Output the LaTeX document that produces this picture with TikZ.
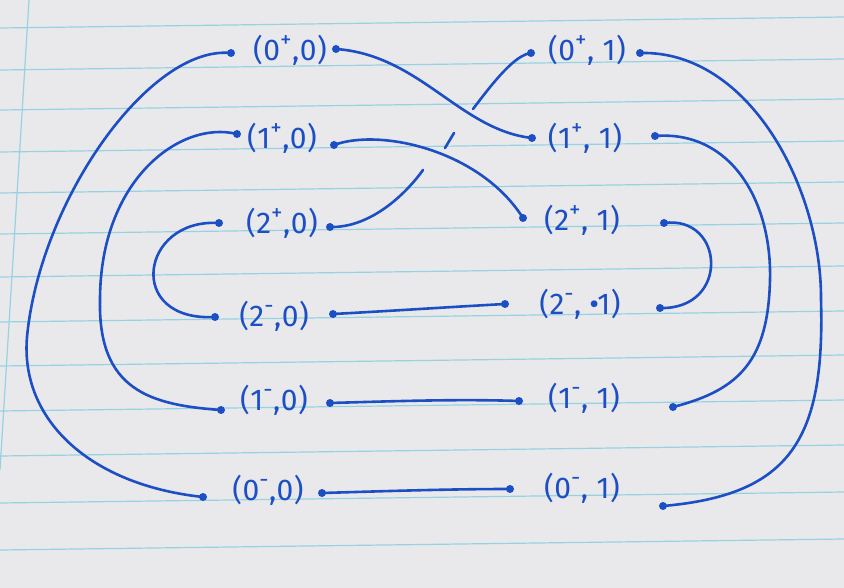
\documentclass[tikz,border=0pt]{standalone}
\usepackage{fontspec}
\setmainfont{Fira Sans}
\definecolor{ink}{RGB}{28,78,196}
\definecolor{paper}{RGB}{233,233,236}
\definecolor{rulecol}{RGB}{150,210,225}
\newcommand\hsup[1]{\raisebox{0.42em}{\fontsize{23}{23}\selectfont #1}}
\newcommand\kk{\kern0.5pt}
\begin{document}
\begin{tikzpicture}[x=1pt,y=-1pt,
  dot/.style={circle,fill=ink,inner sep=0pt,minimum size=8pt},
  lab/.style={text=ink,font=\fontsize{30}{32}\selectfont,inner sep=0pt},
  wire/.style={draw=ink,line width=2.6pt,line cap=round},
  ruling/.style={draw=rulecol,line width=1.2pt}]
\fill[paper] (0,0) rectangle (844,588);
\useasboundingbox (0,0) rectangle (844,588);
\foreach \y in {28,70,110,152,193,234,277,322,366,411,456,503,550}
  \draw[ruling] (0,\y) -- (844,{\y-11});
\draw[ruling] (29,0) -- (0,470);

% labels, left column
\node[lab] (lp0) at (290,50) {(\kk0\hsup{+}\kk,\kk0\kk)};
\node[lab] (lp1) at (282,138) {(\kk1\hsup{+}\kk,\kk0\kk)};
\node[lab] (lp2) at (282,223) {(\kk2\hsup{+}\kk,\kk0\kk)};
\node[lab] (lm2) at (274,316) {(\kk2\hsup{-}\kk,\kk0\kk)};
\node[lab] (lm1) at (274,400) {(\kk1\hsup{-}\kk,\kk0\kk)};
\node[lab] (lm0) at (268,490) {(\kk0\hsup{-}\kk,\kk0\kk)};
% labels, right column
\node[lab] (rp0) at (587,50) {(\kk0\hsup{+}\kk, \kk1\kk)};
\node[lab] (rp1) at (585,138) {(\kk1\hsup{+}\kk, \kk1\kk)};
\node[lab] (rp2) at (582,220) {(\kk2\hsup{+}\kk, \kk1\kk)};
\node[lab] (rm2) at (580,304) {(\kk2\hsup{-}\kk, •1\kk)};
\node[lab] (rm1) at (584,398) {(\kk1\hsup{-}\kk, \kk1\kk)};
\node[lab] (rm0) at (582,488) {(\kk0\hsup{-}\kk, \kk1\kk)};

% dots
\node[dot] (p0L) at (231,53) {};  \node[dot] (p0R) at (336,49) {};
\node[dot] (p1L) at (237,134) {}; \node[dot] (p1R) at (334,145) {};
\node[dot] (p2L) at (219,223) {}; \node[dot] (p2R) at (330,227) {};
\node[dot] (m2L) at (215,317) {}; \node[dot] (m2R) at (333,314) {};
\node[dot] (m1L) at (221,410) {}; \node[dot] (m1R) at (330,403) {};
\node[dot] (m0L) at (203,497) {}; \node[dot] (m0R) at (322,493) {};
\node[dot] (q0L) at (531,53) {};  \node[dot] (q0R) at (640,53) {};
\node[dot] (q1L) at (532,138) {}; \node[dot] (q1R) at (655,136) {};
\node[dot] (q2L) at (523,218) {}; \node[dot] (q2R) at (664,223) {};
\node[dot] (n2L) at (505,304) {}; \node[dot] (n2R) at (660,308) {};
\node[dot] (n1L) at (519,401) {}; \node[dot] (n1R) at (673,407) {};
\node[dot] (n0L) at (510,489) {}; \node[dot] (n0R) at (663,506) {};

% left loops
\draw[wire] (p0L.center) .. controls (150,45) and (40,200) .. (27,337)
  .. controls (20,420) and (90,485) .. (m0L.center);
\draw[wire] (p1L.center) .. controls (180,120) and (100,180) .. (100,300)
  .. controls (98,390) and (150,405) .. (m1L.center);
\draw[wire] (p2L.center) .. controls (140,218) and (125,322) .. (m2L.center);
% right loops
\draw[wire] (q0R.center) .. controls (750,50) and (822,190) .. (821,300)
  .. controls (825,440) and (790,495) .. (n0R.center);
\draw[wire] (q1R.center) .. controls (730,130) and (772,200) .. (770,280)
  .. controls (768,360) and (740,390) .. (n1R.center);
\draw[wire] (q2R.center) .. controls (725,215) and (730,310) .. (n2R.center);
% straight-ish connections
\draw[wire] (m2R.center) .. controls (390,311) and (450,307) .. (n2L.center);
\draw[wire] (m1R.center) .. controls (400,401) and (460,399) .. (n1L.center);
\draw[wire] (m0R.center) .. controls (390,491) and (450,489) .. (n0L.center);
% crossing strands
\draw[wire] (p0R.center) .. controls (420,55) and (460,130) .. (q1L.center);
\draw[wire] (p1R.center) .. controls (380,128) and (480,150) .. (q2L.center);
\coordinate (g1) at (423,170);
\coordinate (g2) at (445,148);
\coordinate (g3) at (454,133);
\coordinate (g4) at (473,109);
\draw[wire] (p2R.center) .. controls (370,228) and (405,195) .. (g1);
\draw[wire] (g2) -- (g3);
\draw[wire] (g4) .. controls (495,80) and (515,55) .. (q0L.center);
\end{tikzpicture}
\end{document}
